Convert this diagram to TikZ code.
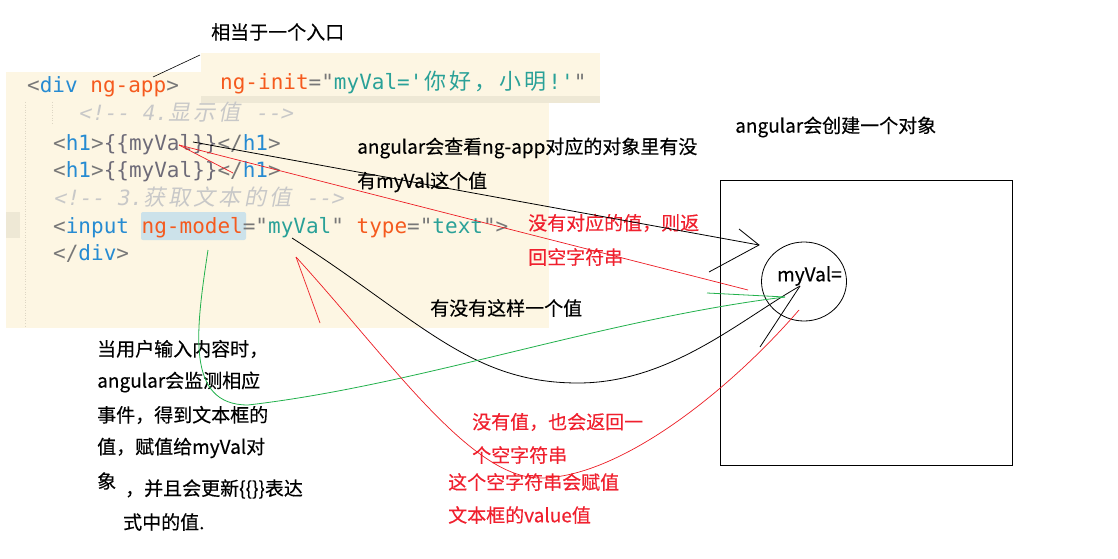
\documentclass[tikz,border=0pt]{standalone}
\usepackage{fontspec}
\usetikzlibrary{shapes.geometric}
\setmainfont{Noto Sans CJK SC}
\newfontfamily\annfont[FakeBold=0.3]{Noto Sans CJK SC}
\newfontfamily\cjk{Noto Sans CJK SC}
\newfontfamily\cjkit[FakeSlant=0.2]{Noto Sans CJK SC}
\newfontfamily\mono[Ligatures=TeXOff]{DejaVu Sans Mono}
\newfontfamily\monoit[Ligatures=TeXOff,FakeSlant=0.2]{DejaVu Sans Mono}
\definecolor{cream}{HTML}{FDF6E3}
\definecolor{band}{HTML}{EEE8D5}
\definecolor{hlblue}{HTML}{CCE2EA}
\definecolor{cdblue}{HTML}{268BD2}
\definecolor{cdorange}{HTML}{F55A1E}
\definecolor{cdteal}{HTML}{2AA198}
\definecolor{cdpunc}{HTML}{787878}
\definecolor{cdgray}{HTML}{6E6B78}
\definecolor{cdcom}{HTML}{C8C8C8}
\definecolor{guide}{HTML}{DDD6C4}
\definecolor{annred}{HTML}{F0202E}
\definecolor{linered}{HTML}{ED1C24}
\definecolor{linegreen}{HTML}{22B14C}
\newcommand\cdP[1]{\textcolor{cdpunc}{#1}}
\newcommand\cdB[1]{\textcolor{cdblue}{#1}}
\newcommand\cdO[1]{\textcolor{cdorange}{#1}}
\newcommand\cdT[1]{\textcolor{cdteal}{#1}}
\newcommand\cdG[1]{\textcolor{cdgray}{#1}}
\newcommand\cc[1]{\makebox[25.2pt][c]{\cjk\fontsize{22}{24}\selectfont #1}}
\newcommand\cci[1]{\makebox[25.2pt][c]{\cjkit\fontsize{22}{24}\selectfont #1}}
\tikzset{
  ann/.style={font=\annfont\fontsize{19}{21}\selectfont, anchor=west, inner sep=0pt},
  redann/.style={ann, text=annred},
  code/.style={font=\mono\fontsize{21}{24}\selectfont, anchor=base west, inner sep=0pt},
  comment/.style={code, font=\monoit\fontsize{21}{24}\selectfont, text=cdcom},
  blk/.style={line width=0.8pt, black},
  redl/.style={line width=0.7pt, linered},
  grn/.style={line width=0.8pt, linegreen},
}
\begin{document}
\begin{tikzpicture}[x=1pt,y=-1pt]
\useasboundingbox (0,0) rectangle (1118,559);
\fill[white] (0,0) rectangle (1118,559);
% code panel
\fill[cream] (6,72) rectangle (549,328);
\fill[cream] (201,53) rectangle (600,103);
\fill[band] (201,96) rectangle (600,103);
\fill[band] (6,212) rectangle (20,238);
\draw[guide, line width=0.6pt, dotted] (25,102) -- (25,328);
\draw[guide, line width=0.6pt, dotted] (52,102) -- (52,125);
\fill[hlblue, rounded corners=2pt] (141,212) rectangle (246,240);
\node[code] (l1) at (27,93) {\cdP{<}\cdB{div} \cdO{ng-app}\cdP{>}};
\begin{scope}
\clip (201,53) rectangle (600,103);
\node[code] (init) at (220,90) {\cdO{ng-init}\cdP{="}\cdT{myVal='\cc{你}\cc{好}\cc{，}\cc{小}\cc{明}!'}\cdP{"}};
\end{scope}
\node[comment] (l2) at (78,121) {<!-- 4.\cci{显}\cci{示}\cci{值} -->};
\node[code] (l3) at (53,150) {\cdP{<}\cdB{h1}\cdP{>}\cdG{\{\{myVal\}\}}\cdP{</}\cdB{h1}\cdP{>}};
\node[code] (l4) at (53,177) {\cdP{<}\cdB{h1}\cdP{>}\cdG{\{\{myVal\}\}}\cdP{</}\cdB{h1}\cdP{>}};
\node[comment] (l5) at (53,205) {<!-- 3.\cci{获}\cci{取}\cci{文}\cci{本}\cci{的}\cci{值} -->};
\node[code] (l6) at (53,233) {\cdP{<}\cdB{input} \cdO{ng-model}\cdP{="}\cdT{myVal}\cdP{"} \cdO{type}\cdP{="}\cdT{text}\cdP{">}};
\node[code] (l7) at (53,260) {\cdP{</}\cdB{div}\cdP{>}};
% object box
\node[draw, line width=0.8pt, minimum width=292pt, minimum height=285pt, inner sep=0pt] (obj) at (866,322.5) {};
\node[draw, line width=0.8pt, ellipse, minimum width=85pt, minimum height=79pt, inner sep=0pt] (circ) at (804,281.5) {};
\node[ann, font=\annfont\fontsize{19}{21}\selectfont] (myval) at (777,276) {myVal=};
% annotations
\node[ann] (t1) at (211,32) {相当于一个入口};
\node[ann] (t2) at (357,148) {angular会查看ng-app对应的对象里有没};
\node[ann] (t3) at (357,182) {有myVal这个值};
\node[ann] (t4) at (735,127) {angular会创建一个对象};
\node[redann] (t5) at (528,223) {没有对应的值，则返};
\node[redann] (t6) at (528,257) {回空字符串};
\node[ann] (t7) at (430,308) {有没有这样一个值};
\node[ann] (u1) at (97,349) {当用户输入内容时，};
\node[ann] (u2) at (97,382) {angular会监测相应};
\node[ann] (u3) at (97,415) {事件，得到文本框的};
\node[ann] (u4) at (97,448) {值，赋值给myVal对};
\node[ann] (u5) at (97,481) {象};
\node[ann] (u6) at (125,489) {，并且会更新\{\{\}\}表达};
\node[ann] (u7) at (123,522) {式中的值.};
\node[redann] (r1) at (472,422) {没有值，也会返回一};
\node[redann] (r2) at (472,455) {个空字符串};
\node[redann] (r3) at (448,482) {这个空字符串会赋值};
\node[redann] (r4) at (448,515) {文本框的value值};
% connector coordinates
\coordinate (appP) at (153,77);
\coordinate (t1P) at (200,55);
\coordinate (hB) at (193,142);
\coordinate (hR) at (179,145);
\coordinate (hR2) at (233,173);
\coordinate (tipA) at (759,245);
\coordinate (barbA1) at (739,229);
\coordinate (barbA2) at (709,272);
\coordinate (redEnd) at (748,290);
\coordinate (inVal) at (292,238);
\coordinate (tipB) at (800,286);
\coordinate (barbB) at (760,347);
\coordinate (inModel) at (208,250);
\coordinate (tipG) at (785,297);
\coordinate (barbG) at (707,293);
\coordinate (inTip) at (296,257);
\coordinate (inBarb) at (320,323);
\coordinate (redC) at (799,310);
% connectors
\draw[blk, line width=0.6pt] (appP) -- (t1P);
\draw[blk] (hB) -- (tipA);
\draw[blk] (barbA1) -- (tipA) -- (barbA2);
\draw[redl] (hR) -- (redEnd);
\draw[redl] (hR) -- (hR2);
\draw[blk] (inVal) .. controls (420,320) and (470,383) .. (578,383) .. controls (670,383) and (740,320) .. (tipB);
\draw[blk] (tipB) -- (barbB);
\draw[grn] (inModel) .. controls (196,330) and (185,405) .. (248,405) .. controls (420,385) and (600,320) .. (tipG);
\draw[grn] (barbG) -- (tipG);
\draw[redl] (inTip) .. controls (390,360) and (470,478) .. (540,478) .. controls (620,478) and (730,390) .. (redC);
\draw[redl] (inTip) -- (inBarb);
\end{tikzpicture}
\end{document}
